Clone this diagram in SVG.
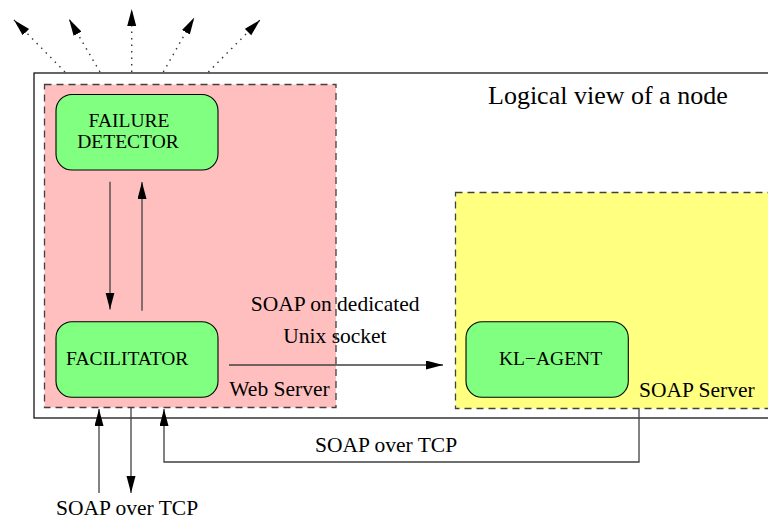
<svg xmlns="http://www.w3.org/2000/svg" width="768" height="519" viewBox="0 0 768 519">
<style>
text{font-family:"Liberation Serif","Times New Roman",serif;fill:#000}
.lbl{font-size:21.5px}
.nt{font-size:19.5px}
.title{font-size:26px}
.conn{stroke:#404040;stroke-width:1.3;fill:none}
.dot{stroke:#333;stroke-width:1.4;fill:none;stroke-dasharray:1.5 5}
.dash{stroke:#404040;stroke-width:1.3;fill:none;stroke-dasharray:7 5}
.node{fill:#80ff80;stroke:#000;stroke-width:1.1}
</style>
<defs>
<marker id="ah" markerUnits="userSpaceOnUse" markerWidth="18" markerHeight="10" refX="17" refY="4.5" orient="auto">
<path d="M0,0 L17,4.5 L0,9 z" fill="#000"/>
</marker>
</defs>
<rect width="768" height="519" fill="#fff"/>
<g id="outer-node">
<rect x="34" y="73" width="740" height="345" fill="none" stroke="#000" stroke-width="1.2"/>
<text class="title" x="488" y="104">Logical view of a node</text>
</g>
<g id="web-server">
<rect x="44.5" y="84.5" width="291.5" height="323" fill="#ffbfbf"/>
</g>
<g id="soap-server">
<rect x="455.5" y="192.5" width="320" height="216" fill="#ffff80"/>
<rect x="455.5" y="192.5" width="320" height="216" class="dash"/>
<text class="lbl" x="639" y="397">SOAP Server</text>
</g>
<g id="connectors">
<line class="dot" x1="65" y1="72" x2="14" y2="20" marker-end="url(#ah)"/>
<line class="dot" x1="100" y1="72" x2="69" y2="19" marker-end="url(#ah)"/>
<line class="dot" x1="131.7" y1="72" x2="131.7" y2="9" marker-end="url(#ah)"/>
<line class="dot" x1="163.3" y1="72" x2="194.3" y2="17.5" marker-end="url(#ah)"/>
<line class="dot" x1="208.3" y1="72" x2="260" y2="20" marker-end="url(#ah)"/>
<line class="conn" x1="110" y1="181.7" x2="110" y2="309.5" marker-end="url(#ah)"/>
<line class="conn" x1="142" y1="310.7" x2="142" y2="182" marker-end="url(#ah)"/>
<line class="conn" x1="229" y1="365" x2="443" y2="365" marker-end="url(#ah)"/>
<polyline class="conn" points="639,408.5 639,462 164,462 164,409" marker-end="url(#ah)"/>
<line class="conn" x1="99" y1="493" x2="99" y2="409" marker-end="url(#ah)"/>
<line class="conn" x1="131" y1="408" x2="131" y2="493" marker-end="url(#ah)"/>
<text class="lbl" x="250.7" y="310.7">SOAP on dedicated</text>
<text class="lbl" x="283.3" y="342.7">Unix socket</text>
<text class="lbl" x="315" y="451.7">SOAP over TCP</text>
<text class="lbl" x="56" y="515">SOAP over TCP</text>
</g>
<g id="web-server-border">
<rect x="44.5" y="84.5" width="291.5" height="323" class="dash"/>
<text class="lbl" x="229.3" y="395.7">Web Server</text>
</g>
<g id="failure-detector">
<rect class="node" x="56" y="94.5" width="162" height="75.5" rx="16" ry="16"/>
<text class="nt" x="129" y="126.7" text-anchor="middle">FAILURE</text>
<text class="nt" x="128" y="148.3" text-anchor="middle">DETECTOR</text>
</g>
<g id="facilitator">
<rect class="node" x="56" y="321.7" width="162" height="75.6" rx="16" ry="16"/>
<text class="nt" x="66" y="365">FACILITATOR</text>
</g>
<g id="kl-agent">
<rect class="node" x="466" y="321.7" width="162.3" height="75.6" rx="16" ry="16"/>
<text class="nt" x="499" y="365">KL−AGENT</text>
</g>
</svg>
